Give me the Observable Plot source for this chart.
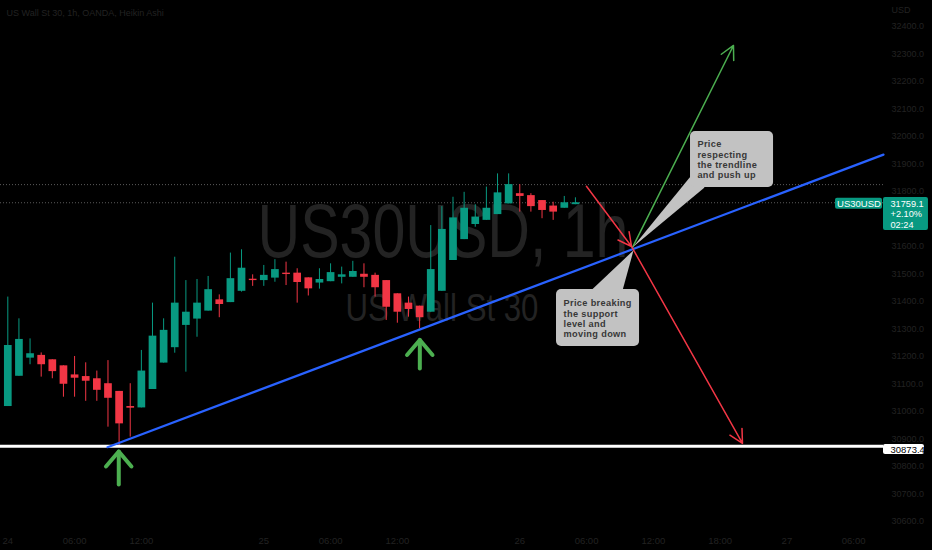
<!DOCTYPE html>
<html><head><meta charset="utf-8">
<script src="https://cdn.jsdelivr.net/npm/d3@7"></script>
<script src="https://cdn.jsdelivr.net/npm/@observablehq/plot@0.6"></script>
<style>
html,body{margin:0;padding:0;background:#000;overflow:hidden}
</style>
</head><body><div id="chart"></div>
<script>
// ---- Data (Heikin Ashi 1h candles) ----
const opens  = [31018,31128,31194,31204,31188,31166,31133,31127,31119,31101,31073,31018,31013,31080,31176,31232,31313,31336,31365,31406,31396,31437,31481,31476,31485,31503,31503,31486,31467,31472,31488,31488,31499,31495,31476,31428,31394,31383,31361,31437,31549,31625,31680,31695,31716,31755,31792,31785,31767,31747,31739,31752];
const highs  = [31416,31337,31264,31213,31188,31166,31200,31177,31147,31185,31073,31101,31222,31394,31337,31561,31476,31480,31491,31424,31576,31588,31497,31531,31552,31543,31519,31486,31519,31537,31525,31546,31537,31503,31476,31428,31416,31383,31676,31745,31779,31797,31752,31816,31864,31864,31825,31792,31767,31761,31782,31777];
const lows   = [31018,31128,31170,31125,31119,31052,31052,31037,31037,30943,30873,30907,31013,31080,31176,31212,31143,31270,31365,31341,31396,31434,31455,31455,31470,31458,31394,31420,31445,31472,31464,31488,31450,31416,31331,31321,31343,31301,31361,31437,31549,31625,31670,31695,31716,31755,31725,31725,31701,31695,31739,31752];
const closes = [31240,31262,31210,31170,31145,31099,31121,31110,31077,31048,30955,31012,31147,31274,31295,31394,31361,31394,31443,31389,31483,31521,31476,31495,31516,31498,31469,31446,31480,31505,31497,31509,31488,31450,31379,31361,31371,31341,31516,31662,31704,31739,31707,31739,31795,31825,31782,31745,31731,31725,31759,31759];

const xTickIndex  = [0,6,12,23,29,35,46,52,58,64,70,76];
const xTickLabels = ["24","06:00","12:00","25","06:00","12:00","26","06:00","12:00","18:00","27","06:00"];
// 31700.0 sits fully behind the last-price tag in the reference
const yTicks = [30600,30700,30800,30900,31000,31100,31200,31300,31400,31500,31600,31800,31900,32000,32100,32200,32300,32400];

const headerText = "US Wall St 30, 1h, OANDA, Heikin Ashi";
const currency = "USD";
const symbol = "US30USD";
const lastPrice = 31759.1;
const changePct = "+2.10%";
const countdown = "02:24";
const supportLevel = 30873.4;
const recentHigh = 31825;

// drawings (bar index, price)
const trendline = [{i: 8.96, p: 30870}, {i: 78.68, p: 31934}];
const upArrow   = [{i1: 56.12, p1: 31596, i2: 65.2, p2: 32331}];
const downArrows = [
  {i1: 51.99, p1: 31819, i2: 56.04, p2: 31600},
  {i1: 56.04, p1: 31600, i2: 66.01, p2: 30884}
];
const bounceArrows = [
  {k: "a1s", i: 9.97, p: 30854.5}, {k: "a1s", i: 9.97, p: 30734.5},
  {k: "a1h", i: 8.82, p: 30800}, {k: "a1h", i: 9.97, p: 30854.5}, {k: "a1h", i: 11.11, p: 30800},
  {k: "a2s", i: 37.02, p: 31260}, {k: "a2s", i: 37.02, p: 31156.4},
  {k: "a2h", i: 35.87, p: 31205.5}, {k: "a2h", i: 37.02, p: 31260}, {k: "a2h", i: 38.16, p: 31205.5}
];
const callouts = [
  {text: "Price\nrespecting\nthe trendline\nand push up", ti: 61.96, tp: 31988, i1: 61.34, i2: 68.80, p1: 31814.5, p2: 32018},
  {text: "Price breaking\nthe support\nlevel and\nmoving down", ti: 49.93, tp: 31409.8, i1: 49.30, i2: 56.76, p1: 31236.4, p2: 31443.6}
];
const calloutPointers = [
  {k: "c1", i: 61.34, p: 31854.5}, {k: "c1", i: 62.6, p: 31814.5}, {k: "c1", i: 56.17, p: 31598},
  {k: "c2", i: 52.4, p: 31440}, {k: "c2", i: 55.23, p: 31440}, {k: "c2", i: 56.22, p: 31586}
];
const watermarks = [
  {text: "US30USD, 1h", i: 39.1, p: 31648.4, size: 76, len: 371, cls: "wm1"},
  {text: "US Wall St 30", i: 39.01, p: 31376.7, size: 39.5, len: 193, cls: "wm2"}
];
const tags = [
  {kind: "sym", i1: 74.37, i2: 78.59, p1: 31735.6, p2: 31775.6},
  {kind: "last", i1: 78.68, i2: 82.72, p1: 31658.2, p2: 31778.2},
  {kind: "support", i1: 78.68, i2: 82.36, p1: 30843.6, p2: 30880}
];

// ---- build table ----
const candles = opens.map((o, i) => ({i, open: o, high: highs[i], low: lows[i], close: closes[i]}));
const up = candles.filter(d => d.close >= d.open);
const down = candles.filter(d => d.close < d.open);

const GREEN = "#089981", RED = "#f23645", DIM = "#222222";
const tickMap = new Map(xTickIndex.map((d, k) => [d, xTickLabels[k]]));

const chart = Plot.plot({
  width: 932, height: 550,
  marginLeft: 0, marginRight: 49, marginTop: 0, marginBottom: 22,
  x: {type: "linear", domain: [-0.656, 78.68]},
  y: {domain: [30574.5, 32494.5]},
  style: {background: "#000", color: DIM, fontFamily: "Liberation Sans, Arial, sans-serif", overflow: "visible"},
  marks: [
    // watermarks
    ...watermarks.map(w => Plot.text([w], {x: "i", y: "p", text: "text", fontSize: w.size, fill: "#232323",
      textAnchor: "middle", lineAnchor: "middle", className: w.cls})),
    Plot.text([headerText], {frameAnchor: "top-left", dx: 6, dy: 13, fontSize: 9, fill: DIM, textAnchor: "start", lineAnchor: "middle", className: "dim"}),
    // dotted reference lines
    Plot.ruleY([recentHigh, lastPrice], {stroke: "#5a5a5a", strokeWidth: 1, strokeDasharray: "1,2"}),
    // candles
    Plot.ruleX(up, {x: "i", y1: "low", y2: "high", stroke: GREEN, strokeWidth: 1}),
    Plot.ruleX(down, {x: "i", y1: "low", y2: "high", stroke: RED, strokeWidth: 1}),
    Plot.ruleX(up, {x: "i", y1: "open", y2: "close", stroke: GREEN, strokeWidth: 7.7}),
    Plot.ruleX(down, {x: "i", y1: "open", y2: "close", stroke: RED, strokeWidth: 7.7}),
    // support level
    Plot.ruleY([supportLevel], {stroke: "#ffffff", strokeWidth: 3}),
    // trendline
    Plot.line(trendline, {x: "i", y: "p", stroke: "#2962ff", strokeWidth: 2.2}),
    // scenario arrows
    Plot.arrow(upArrow, {x1: "i1", y1: "p1", x2: "i2", y2: "p2", stroke: "#4caf50", strokeWidth: 1.5, headLength: 15, headAngle: 55}),
    Plot.arrow(downArrows, {x1: "i1", y1: "p1", x2: "i2", y2: "p2", stroke: RED, strokeWidth: 1.5, headLength: 15, headAngle: 55}),
    // bounce arrows
    Plot.line(bounceArrows, {x: "i", y: "p", z: "k", stroke: "#4caf50", strokeWidth: 4, strokeLinecap: "round", strokeLinejoin: "round"}),
    // callouts
    Plot.line(calloutPointers, {x: "i", y: "p", z: "k", fill: "#c2c2c2", stroke: "none"}),
    Plot.rect(callouts, {x1: "i1", x2: "i2", y1: "p1", y2: "p2", fill: "#c2c2c2", rx: 5}),
    Plot.text(callouts, {x: "ti", y: "tp", text: "text", fill: "#383838", fontSize: 9.2, fontWeight: "bold",
      textAnchor: "start", lineAnchor: "top", lineHeight: 1.13, className: "callout-text"}),
    // axes
    Plot.axisY(yTicks, {anchor: "right", tickSize: 0, tickPadding: 8, fontSize: 9, fill: DIM, label: null,
      tickFormat: d => d.toFixed(1), className: "dim"}),
    Plot.axisX(xTickIndex, {anchor: "bottom", tickSize: 0, tickPadding: 9, fontSize: 9.5, fill: DIM, label: null,
      tickFormat: d => tickMap.get(d), className: "dim"}),
    Plot.text([currency], {frameAnchor: "top-right", dx: 8, dy: 10, fontSize: 9, fill: DIM, textAnchor: "start", lineAnchor: "middle", className: "dim"}),
    // price tags
    Plot.rect(tags.filter(t => t.kind !== "support"), {x1: "i1", x2: "i2", y1: "p1", y2: "p2", fill: GREEN, rx: 2}),
    Plot.rect(tags.filter(t => t.kind === "support"), {x1: "i1", x2: "i2", y1: "p1", y2: "p2", fill: "#ffffff", rx: 2}),
    Plot.text([symbol], {x: 76.48, y: 31756.4, fill: "#ffffff", fontSize: 9.5, textAnchor: "middle", lineAnchor: "middle"}),
    Plot.text([`${lastPrice.toFixed(1)}\n${changePct}\n${countdown}`], {x: 79.31, y: 31770.9, fill: "#ffffff", fontSize: 9.2,
      textAnchor: "start", lineAnchor: "top", lineHeight: 1.13}),
    Plot.text([supportLevel.toFixed(1)], {x: 79.31, y: 30861.8, fill: "#000000", fontSize: 9.5, textAnchor: "start", lineAnchor: "middle"})
  ]
});
document.getElementById("chart").appendChild(chart);
// condensed watermark glyphs: shrink the font to the target width, then stretch vertically back to full height
watermarks.forEach(w => {
  chart.querySelectorAll(`.${w.cls} text`).forEach(t => {
    const natural = t.getComputedTextLength();
    if (!(natural > 0)) return;
    const fs = w.size * w.len / natural;
    const k = w.size / fs;
    t.setAttribute("font-size", fs);
    t.style.fontSize = fs + "px";
    const tr = t.getAttribute("transform") || "";
    t.setAttribute("transform", `${tr} scale(1,${k})`);
  });
});
// dim labels: force the fill on each text element
chart.querySelectorAll(".dim text, .dim").forEach(t => { t.style.fill = DIM; t.setAttribute("fill", DIM); });
// widen the bold callout text slightly
chart.querySelectorAll(".callout-text text").forEach(t => t.setAttribute("letter-spacing", "0.35"));
</script></body></html>
